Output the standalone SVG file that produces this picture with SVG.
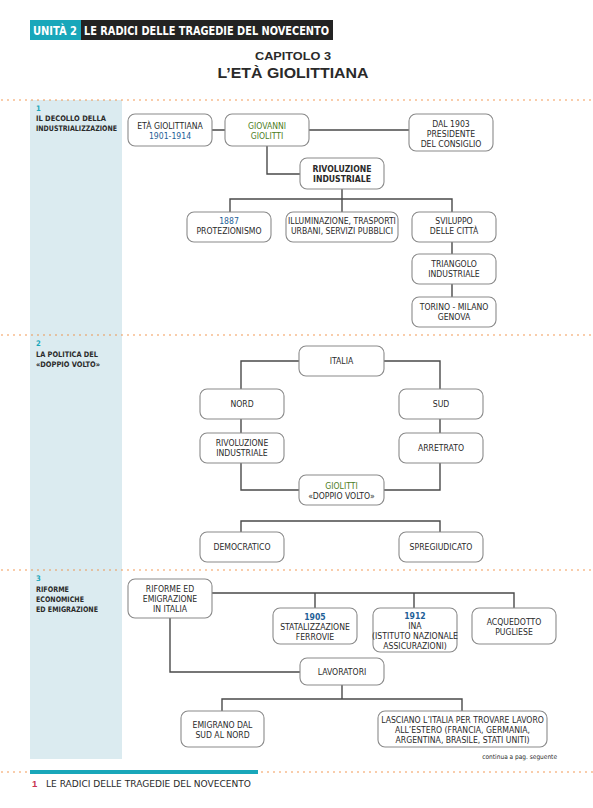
<svg xmlns="http://www.w3.org/2000/svg" width="593" height="808" viewBox="0 0 593 808">
<style>
.box{fill:#fff;stroke:#8a8a8a;stroke-width:1.1}
.t{font-family:"Liberation Sans Narrow","DejaVu Sans Condensed","Liberation Sans",sans-serif;font-size:8.6px;fill:#2a2a2a;text-anchor:middle}
.b{font-weight:bold}
.g{fill:#4d7d1e}
.bl{fill:#1f5f98}
.side{font-family:"Liberation Sans Narrow","DejaVu Sans Condensed","Liberation Sans",sans-serif;font-size:7.6px;font-weight:bold;fill:#2a2a2a}
.num{fill:#19a7ba}
.dots{stroke:#f0893a;stroke-width:1.6;stroke-linecap:round;stroke-dasharray:0 6;fill:none}
.c{fill:none;stroke:#4a4a4a;stroke-width:1.4}
</style>
<rect width="593" height="808" fill="#fff"/>
<!-- header -->
<g id="header">
<rect x="30" y="20" width="51" height="20" fill="#19a7ba"/>
<rect x="81" y="20" width="252" height="20" fill="#232323"/>
<text x="33" y="35" font-family="Liberation Sans Narrow,DejaVu Sans Condensed,Liberation Sans,sans-serif" font-size="11.5" font-weight="bold" fill="#fff" textLength="44" lengthAdjust="spacingAndGlyphs">UNITÀ 2</text>
<text x="84" y="35" font-family="Liberation Sans Narrow,DejaVu Sans Condensed,Liberation Sans,sans-serif" font-size="11.5" font-weight="bold" fill="#fff" textLength="245" lengthAdjust="spacingAndGlyphs">LE RADICI DELLE TRAGEDIE DEL NOVECENTO</text>
<text x="293" y="60" font-family="Liberation Sans,sans-serif" font-size="11.5" font-weight="bold" fill="#2a2a2a" text-anchor="middle" textLength="76" lengthAdjust="spacingAndGlyphs">CAPITOLO 3</text>
<text x="293" y="78" font-family="Liberation Sans,sans-serif" font-size="15.5" font-weight="bold" fill="#2a2a2a" text-anchor="middle" textLength="151" lengthAdjust="spacingAndGlyphs">L’ETÀ GIOLITTIANA</text>
</g>
<!-- sidebar -->
<rect x="30" y="100" width="92" height="659" fill="#dbebf0"/>
<line class="dots" x1="2" y1="100" x2="593" y2="100"/>
<line class="dots" x1="2" y1="335" x2="593" y2="335"/>
<line class="dots" x1="2" y1="570" x2="593" y2="570"/>
<line class="dots" x1="2" y1="772" x2="28" y2="772"/>
<line class="dots" x1="262" y1="772" x2="593" y2="772"/>
<rect x="30" y="770" width="228" height="4" fill="#19a7ba"/>
<g id="footer">
<text x="32" y="787" font-family="Liberation Sans,sans-serif" font-size="9.5" font-weight="bold" fill="#c8334f">1</text>
<text x="46" y="787" font-family="Liberation Sans Narrow,DejaVu Sans Condensed,Liberation Sans,sans-serif" font-size="9.5" fill="#2a2a2a" textLength="205" lengthAdjust="spacingAndGlyphs">LE RADICI DELLE TRAGEDIE DEL NOVECENTO</text>
</g>
<g id="sec1-label">
<text class="side num" x="36" y="111">1</text>
<text class="side" x="36" y="121" textLength="70" lengthAdjust="spacingAndGlyphs">IL DECOLLO DELLA</text>
<text class="side" x="36" y="131" textLength="81" lengthAdjust="spacingAndGlyphs">INDUSTRIALIZZAZIONE</text>
</g>
<g id="sec2-label">
<text class="side num" x="36" y="346">2</text>
<text class="side" x="36" y="357" textLength="62" lengthAdjust="spacingAndGlyphs">LA POLITICA DEL</text>
<text class="side" x="36" y="367" textLength="64" lengthAdjust="spacingAndGlyphs">«DOPPIO VOLTO»</text>
</g>
<g id="sec3-label">
<text class="side num" x="36" y="581">3</text>
<text class="side" x="36" y="592" textLength="33" lengthAdjust="spacingAndGlyphs">RIFORME</text>
<text class="side" x="36" y="602" textLength="48" lengthAdjust="spacingAndGlyphs">ECONOMICHE</text>
<text class="side" x="36" y="612" textLength="62" lengthAdjust="spacingAndGlyphs">ED EMIGRAZIONE</text>
</g>
<!-- connectors -->
<g id="connectors">
<path class="c" d="M212 130H225M309 130H409M267 146V174H300M342 189V212M230 212V199H452V212M452 242V254M452 284V297"/>
<path class="c" d="M299 361H241V389M384 361H440V389M241 419V433M440 419V433M241 463V490H299M440 463V490H384M241 532V521H440V532"/>
<path class="c" d="M212 593H514V608M315 593V608M414 593V608M170 618V672H300M342 685V699M222 711V699H462V711"/>
</g>
<!-- section 1 nodes -->
<g id="n-eta"><rect class="box" x="128" y="114" width="84" height="32" rx="7"/><text class="t" x="170" y="129">ETÀ GIOLITTIANA</text><text class="t bl" x="170" y="139">1901-1914</text></g>
<g id="n-giovanni"><rect class="box" x="225" y="114" width="84" height="32" rx="7"/><text class="t g" x="267" y="129">GIOVANNI</text><text class="t g" x="267" y="139">GIOLITTI</text></g>
<g id="n-dal1903"><rect class="box" x="409" y="114" width="84" height="37" rx="7"/><text class="t" x="451" y="127">DAL 1903</text><text class="t" x="451" y="137">PRESIDENTE</text><text class="t" x="451" y="147">DEL CONSIGLIO</text></g>
<g id="n-rivoluzione1"><rect class="box" x="300" y="158" width="84" height="31" rx="7"/><text class="t b" x="342" y="172">RIVOLUZIONE</text><text class="t b" x="342" y="182">INDUSTRIALE</text></g>
<g id="n-1887"><rect class="box" x="187" y="212" width="84" height="30" rx="7"/><text class="t bl" x="229" y="224">1887</text><text class="t" x="229" y="234">PROTEZIONISMO</text></g>
<g id="n-illuminazione"><rect class="box" x="286" y="212" width="112" height="30" rx="7"/><text class="t" x="342" y="224">ILLUMINAZIONE, TRASPORTI</text><text class="t" x="342" y="234">URBANI, SERVIZI PUBBLICI</text></g>
<g id="n-sviluppo"><rect class="box" x="412" y="212" width="84" height="30" rx="7"/><text class="t" x="454" y="224">SVILUPPO</text><text class="t" x="454" y="234">DELLE CITTÀ</text></g>
<g id="n-triangolo"><rect class="box" x="412" y="254" width="84" height="30" rx="7"/><text class="t" x="454" y="267">TRIANGOLO</text><text class="t" x="454" y="277">INDUSTRIALE</text></g>
<g id="n-torino"><rect class="box" x="412" y="297" width="84" height="30" rx="7"/><text class="t" x="454" y="310">TORINO - MILANO</text><text class="t" x="454" y="320">GENOVA</text></g>
<!-- section 2 nodes -->
<g id="n-italia"><rect class="box" x="299" y="346" width="85" height="30" rx="7"/><text class="t" x="341.5" y="364">ITALIA</text></g>
<g id="n-nord"><rect class="box" x="200" y="389" width="84" height="30" rx="7"/><text class="t" x="242" y="407">NORD</text></g>
<g id="n-rivoluzione2"><rect class="box" x="200" y="433" width="84" height="30" rx="7"/><text class="t" x="242" y="446">RIVOLUZIONE</text><text class="t" x="242" y="456">INDUSTRIALE</text></g>
<g id="n-sud"><rect class="box" x="399" y="389" width="84" height="30" rx="7"/><text class="t" x="441" y="407">SUD</text></g>
<g id="n-arretrato"><rect class="box" x="399" y="433" width="84" height="30" rx="7"/><text class="t" x="441" y="451">ARRETRATO</text></g>
<g id="n-giolitti2"><rect class="box" x="299" y="475" width="85" height="30" rx="7"/><text class="t g" x="341.5" y="489">GIOLITTI</text><text class="t" x="341.5" y="499">«DOPPIO VOLTO»</text></g>
<g id="n-democratico"><rect class="box" x="200" y="532" width="84" height="30" rx="7"/><text class="t" x="242" y="550">DEMOCRATICO</text></g>
<g id="n-spregiudicato"><rect class="box" x="399" y="532" width="84" height="30" rx="7"/><text class="t" x="441" y="550">SPREGIUDICATO</text></g>
<!-- section 3 nodes -->
<g id="n-riforme"><rect class="box" x="128" y="579" width="84" height="39" rx="7"/><text class="t" x="170" y="592">RIFORME ED</text><text class="t" x="170" y="602">EMIGRAZIONE</text><text class="t" x="170" y="612">IN ITALIA</text></g>
<g id="n-1905"><rect class="box" x="273" y="608" width="84" height="36" rx="7"/><text class="t bl b" x="315" y="620">1905</text><text class="t" x="315" y="630">STATALIZZAZIONE</text><text class="t" x="315" y="640">FERROVIE</text></g>
<g id="n-1912"><rect class="box" x="373" y="608" width="84" height="44" rx="7"/><text class="t bl b" x="415" y="619">1912</text><text class="t" x="415" y="629">INA</text><text class="t" x="415" y="639">(ISTITUTO NAZIONALE</text><text class="t" x="415" y="649">ASSICURAZIONI)</text></g>
<g id="n-acquedotto"><rect class="box" x="472" y="608" width="84" height="36" rx="7"/><text class="t" x="514" y="625">ACQUEDOTTO</text><text class="t" x="514" y="635">PUGLIESE</text></g>
<g id="n-lavoratori"><rect class="box" x="300" y="658" width="84" height="27" rx="7"/><text class="t" x="342" y="675">LAVORATORI</text></g>
<g id="n-emigrano"><rect class="box" x="181" y="711" width="83" height="36" rx="7"/><text class="t" x="222.5" y="728">EMIGRANO DAL</text><text class="t" x="222.5" y="738">SUD AL NORD</text></g>
<g id="n-lasciano"><rect class="box" x="378" y="711" width="169" height="36" rx="7"/><text class="t" x="462.5" y="723">LASCIANO L’ITALIA PER TROVARE LAVORO</text><text class="t" x="462.5" y="733">ALL’ESTERO (FRANCIA, GERMANIA,</text><text class="t" x="462.5" y="743">ARGENTINA, BRASILE, STATI UNITI)</text></g>
<text x="557" y="759" font-family="Liberation Sans Narrow,DejaVu Sans Condensed,Liberation Sans,sans-serif" font-size="6.5" fill="#2a2a2a" text-anchor="end">continua a pag. seguente</text>
</svg>
